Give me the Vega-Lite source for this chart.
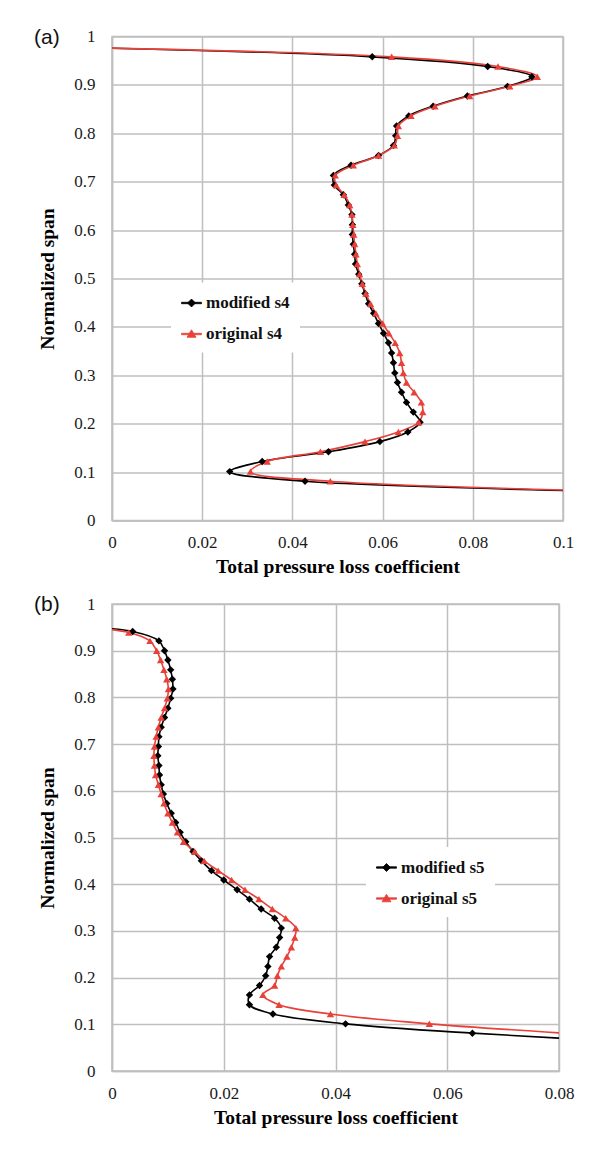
{
  "$schema": "https://vega.github.io/schema/vega-lite/v6.json",
  "padding": {"left": 33, "top": 25.5, "right": 0, "bottom": 0},
  "autosize": {"type": "pad"},
  "background": "white",
  "config": {
    "font": "Liberation Serif",
    "view": {"stroke": "#bfbfbf", "strokeWidth": 1.5},
    "axis": {
      "grid": true, "gridColor": "#bfbfbf", "gridWidth": 1.5,
      "domainColor": "#bfbfbf", "domainWidth": 1.5, "ticks": false,
      "labelFont": "Liberation Serif", "labelFontSize": 17, "labelColor": "#1a1a1a",
      "labelFlush": false, "labelOverlap": false,
      "titleFont": "Liberation Serif", "titleFontSize": 19.5, "titleFontWeight": "bold", "titleColor": "#000000"
    },
    "axisX": {"labelPadding": 14, "titlePadding": 7},
    "axisY": {"labelPadding": 17, "titlePadding": 16},
    "legend": {
      "orient": "none", "labelFont": "Liberation Serif", "labelFontSize": 17, "labelFontWeight": "bold",
      "labelColor": "#111111", "fillColor": "white", "padding": 10, "symbolSize": 400,
      "rowPadding": 12, "labelOffset": 4, "symbolStrokeWidth": 0.8
    },
    "title": {"font": "Liberation Sans", "fontSize": 21, "fontWeight": "normal", "anchor": "start", "frame": "group", "color": "#111111"},
    "concat": {"spacing": 15.5}
  },
  "resolve": {"scale": {"color": "independent"}, "legend": {"color": "independent"}},
  "vconcat": [
    {
      "width": 451, "height": 484,
      "title": {"text": "(a)", "dx": -78, "dy": 35, "baseline": "middle"},
      "data": {"values": [
        {"series": "modified s4", "loss": 0.13, "span": 0.056},
        {"series": "modified s4", "loss": 0.0428, "span": 0.081},
        {"series": "modified s4", "loss": 0.0261, "span": 0.101},
        {"series": "modified s4", "loss": 0.0333, "span": 0.122},
        {"series": "modified s4", "loss": 0.048, "span": 0.142},
        {"series": "modified s4", "loss": 0.0594, "span": 0.163},
        {"series": "modified s4", "loss": 0.0656, "span": 0.183},
        {"series": "modified s4", "loss": 0.0683, "span": 0.203},
        {"series": "modified s4", "loss": 0.0668, "span": 0.224},
        {"series": "modified s4", "loss": 0.0653, "span": 0.244},
        {"series": "modified s4", "loss": 0.0642, "span": 0.265},
        {"series": "modified s4", "loss": 0.0633, "span": 0.285},
        {"series": "modified s4", "loss": 0.0627, "span": 0.305},
        {"series": "modified s4", "loss": 0.0624, "span": 0.326},
        {"series": "modified s4", "loss": 0.062, "span": 0.346},
        {"series": "modified s4", "loss": 0.0613, "span": 0.367},
        {"series": "modified s4", "loss": 0.0602, "span": 0.387},
        {"series": "modified s4", "loss": 0.0591, "span": 0.407},
        {"series": "modified s4", "loss": 0.058, "span": 0.428},
        {"series": "modified s4", "loss": 0.0569, "span": 0.448},
        {"series": "modified s4", "loss": 0.0561, "span": 0.469},
        {"series": "modified s4", "loss": 0.0554, "span": 0.489},
        {"series": "modified s4", "loss": 0.0547, "span": 0.509},
        {"series": "modified s4", "loss": 0.054, "span": 0.53},
        {"series": "modified s4", "loss": 0.0538, "span": 0.55},
        {"series": "modified s4", "loss": 0.0535, "span": 0.571},
        {"series": "modified s4", "loss": 0.0533, "span": 0.591},
        {"series": "modified s4", "loss": 0.0533, "span": 0.611},
        {"series": "modified s4", "loss": 0.0532, "span": 0.632},
        {"series": "modified s4", "loss": 0.0524, "span": 0.652},
        {"series": "modified s4", "loss": 0.0513, "span": 0.673},
        {"series": "modified s4", "loss": 0.0493, "span": 0.693},
        {"series": "modified s4", "loss": 0.0491, "span": 0.713},
        {"series": "modified s4", "loss": 0.053, "span": 0.734},
        {"series": "modified s4", "loss": 0.0591, "span": 0.754},
        {"series": "modified s4", "loss": 0.0624, "span": 0.775},
        {"series": "modified s4", "loss": 0.0629, "span": 0.795},
        {"series": "modified s4", "loss": 0.0631, "span": 0.815},
        {"series": "modified s4", "loss": 0.0658, "span": 0.836},
        {"series": "modified s4", "loss": 0.0712, "span": 0.856},
        {"series": "modified s4", "loss": 0.0788, "span": 0.877},
        {"series": "modified s4", "loss": 0.0877, "span": 0.897},
        {"series": "modified s4", "loss": 0.0931, "span": 0.917},
        {"series": "modified s4", "loss": 0.0833, "span": 0.938},
        {"series": "modified s4", "loss": 0.0577, "span": 0.958},
        {"series": "modified s4", "loss": -0.01, "span": 0.978},
        {"series": "original s4", "loss": 0.13, "span": 0.0565},
        {"series": "original s4", "loss": 0.0484, "span": 0.081},
        {"series": "original s4", "loss": 0.0307, "span": 0.101},
        {"series": "original s4", "loss": 0.0344, "span": 0.122},
        {"series": "original s4", "loss": 0.0462, "span": 0.142},
        {"series": "original s4", "loss": 0.0561, "span": 0.163},
        {"series": "original s4", "loss": 0.0635, "span": 0.183},
        {"series": "original s4", "loss": 0.068, "span": 0.203},
        {"series": "original s4", "loss": 0.0689, "span": 0.224},
        {"series": "original s4", "loss": 0.0686, "span": 0.244},
        {"series": "original s4", "loss": 0.067, "span": 0.265},
        {"series": "original s4", "loss": 0.0653, "span": 0.285},
        {"series": "original s4", "loss": 0.0646, "span": 0.305},
        {"series": "original s4", "loss": 0.0642, "span": 0.326},
        {"series": "original s4", "loss": 0.0638, "span": 0.346},
        {"series": "original s4", "loss": 0.0628, "span": 0.367},
        {"series": "original s4", "loss": 0.0614, "span": 0.387},
        {"series": "original s4", "loss": 0.06, "span": 0.407},
        {"series": "original s4", "loss": 0.0585, "span": 0.428},
        {"series": "original s4", "loss": 0.0573, "span": 0.448},
        {"series": "original s4", "loss": 0.0563, "span": 0.469},
        {"series": "original s4", "loss": 0.0555, "span": 0.489},
        {"series": "original s4", "loss": 0.0549, "span": 0.509},
        {"series": "original s4", "loss": 0.0544, "span": 0.53},
        {"series": "original s4", "loss": 0.0541, "span": 0.55},
        {"series": "original s4", "loss": 0.0538, "span": 0.571},
        {"series": "original s4", "loss": 0.0536, "span": 0.591},
        {"series": "original s4", "loss": 0.0534, "span": 0.611},
        {"series": "original s4", "loss": 0.0532, "span": 0.632},
        {"series": "original s4", "loss": 0.0527, "span": 0.652},
        {"series": "original s4", "loss": 0.0515, "span": 0.673},
        {"series": "original s4", "loss": 0.0497, "span": 0.693},
        {"series": "original s4", "loss": 0.0495, "span": 0.713},
        {"series": "original s4", "loss": 0.0535, "span": 0.734},
        {"series": "original s4", "loss": 0.0591, "span": 0.754},
        {"series": "original s4", "loss": 0.0626, "span": 0.775},
        {"series": "original s4", "loss": 0.0633, "span": 0.795},
        {"series": "original s4", "loss": 0.0635, "span": 0.815},
        {"series": "original s4", "loss": 0.0663, "span": 0.836},
        {"series": "original s4", "loss": 0.0716, "span": 0.856},
        {"series": "original s4", "loss": 0.0793, "span": 0.877},
        {"series": "original s4", "loss": 0.0882, "span": 0.897},
        {"series": "original s4", "loss": 0.0943, "span": 0.917},
        {"series": "original s4", "loss": 0.0856, "span": 0.938},
        {"series": "original s4", "loss": 0.062, "span": 0.958},
        {"series": "original s4", "loss": -0.01, "span": 0.978}
      ]},
      "encoding": {
        "x": {"field": "loss", "type": "quantitative", "scale": {"domain": [0, 0.1], "nice": false, "zero": false},
              "axis": {"title": "Total pressure loss coefficient", "values": [0, 0.02, 0.04, 0.06, 0.08, 0.1], "format": "~g"}},
        "y": {"field": "span", "type": "quantitative", "scale": {"domain": [0, 1], "nice": false, "zero": false},
              "axis": {"title": "Normalized span", "values": [0, 0.1, 0.2, 0.3, 0.4, 0.5, 0.6, 0.7, 0.8, 0.9, 1], "format": "~g"}},
        "color": {"field": "series", "type": "nominal",
                  "scale": {"domain": ["modified s4", "original s4"], "range": ["#000000", "#e8413a"]},
                  "legend": {"title": null, "legendX": 59, "legendY": 246,
                    "encode": {"symbols": {"update": {
                      "shape": {"signal": "datum.value === 'modified s4' ? 'M-1,-0.07H1V0.07H-1Z M0,-0.4L0.4,0L0,0.4L-0.4,0Z' : 'M-1,-0.07H1V0.07H-1Z M0,-0.42L0.45,0.33L-0.45,0.33Z'"},
                      "fill": {"signal": "datum.value === 'modified s4' ? '#000000' : '#e8413a'"},
                      "opacity": {"value": 1}}}}}}
      },
      "layer": [
        {"mark": {"type": "line", "interpolate": "catmull-rom", "clip": true, "strokeWidth": 1.6},
         "encoding": {"order": {"field": "span", "type": "quantitative"}}},
        {"transform": [{"filter": "datum.series === 'modified s4'"}],
         "mark": {"type": "point", "shape": "diamond", "filled": true, "opacity": 1, "clip": true, "size": 55}},
        {"transform": [{"filter": "datum.series === 'original s4'"}],
         "mark": {"type": "point", "shape": "triangle-up", "filled": true, "opacity": 1, "clip": true, "size": 55}}
      ]
    },
    {
      "width": 447, "height": 467,
      "title": {"text": "(b)", "dx": -78, "dy": 35, "baseline": "middle"},
      "data": {"values": [
        {"series": "modified s5", "loss": 0.1, "span": 0.058},
        {"series": "modified s5", "loss": 0.0645, "span": 0.081},
        {"series": "modified s5", "loss": 0.0418, "span": 0.101},
        {"series": "modified s5", "loss": 0.0288, "span": 0.122},
        {"series": "modified s5", "loss": 0.0246, "span": 0.142},
        {"series": "modified s5", "loss": 0.0246, "span": 0.163},
        {"series": "modified s5", "loss": 0.0264, "span": 0.183},
        {"series": "modified s5", "loss": 0.0275, "span": 0.204},
        {"series": "modified s5", "loss": 0.0279, "span": 0.224},
        {"series": "modified s5", "loss": 0.0282, "span": 0.245},
        {"series": "modified s5", "loss": 0.0294, "span": 0.265},
        {"series": "modified s5", "loss": 0.03, "span": 0.286},
        {"series": "modified s5", "loss": 0.0303, "span": 0.306},
        {"series": "modified s5", "loss": 0.0291, "span": 0.327},
        {"series": "modified s5", "loss": 0.0267, "span": 0.347},
        {"series": "modified s5", "loss": 0.0246, "span": 0.368},
        {"series": "modified s5", "loss": 0.0224, "span": 0.388},
        {"series": "modified s5", "loss": 0.02, "span": 0.409},
        {"series": "modified s5", "loss": 0.0178, "span": 0.429},
        {"series": "modified s5", "loss": 0.016, "span": 0.45},
        {"series": "modified s5", "loss": 0.0145, "span": 0.47},
        {"series": "modified s5", "loss": 0.0132, "span": 0.491},
        {"series": "modified s5", "loss": 0.0122, "span": 0.511},
        {"series": "modified s5", "loss": 0.0114, "span": 0.532},
        {"series": "modified s5", "loss": 0.0106, "span": 0.552},
        {"series": "modified s5", "loss": 0.0098, "span": 0.573},
        {"series": "modified s5", "loss": 0.0092, "span": 0.593},
        {"series": "modified s5", "loss": 0.0088, "span": 0.613},
        {"series": "modified s5", "loss": 0.0085, "span": 0.634},
        {"series": "modified s5", "loss": 0.0084, "span": 0.654},
        {"series": "modified s5", "loss": 0.0082, "span": 0.675},
        {"series": "modified s5", "loss": 0.0083, "span": 0.695},
        {"series": "modified s5", "loss": 0.0084, "span": 0.716},
        {"series": "modified s5", "loss": 0.0088, "span": 0.736},
        {"series": "modified s5", "loss": 0.0094, "span": 0.757},
        {"series": "modified s5", "loss": 0.01, "span": 0.777},
        {"series": "modified s5", "loss": 0.0105, "span": 0.798},
        {"series": "modified s5", "loss": 0.0109, "span": 0.818},
        {"series": "modified s5", "loss": 0.0108, "span": 0.839},
        {"series": "modified s5", "loss": 0.0105, "span": 0.859},
        {"series": "modified s5", "loss": 0.01, "span": 0.88},
        {"series": "modified s5", "loss": 0.0094, "span": 0.9},
        {"series": "modified s5", "loss": 0.0084, "span": 0.921},
        {"series": "modified s5", "loss": 0.0037, "span": 0.941},
        {"series": "modified s5", "loss": -0.004, "span": 0.95},
        {"series": "original s5", "loss": 0.1, "span": 0.067},
        {"series": "original s5", "loss": 0.0568, "span": 0.101},
        {"series": "original s5", "loss": 0.0391, "span": 0.122},
        {"series": "original s5", "loss": 0.0299, "span": 0.142},
        {"series": "original s5", "loss": 0.027, "span": 0.163},
        {"series": "original s5", "loss": 0.0291, "span": 0.183},
        {"series": "original s5", "loss": 0.0296, "span": 0.204},
        {"series": "original s5", "loss": 0.0303, "span": 0.224},
        {"series": "original s5", "loss": 0.0313, "span": 0.245},
        {"series": "original s5", "loss": 0.0321, "span": 0.265},
        {"series": "original s5", "loss": 0.0327, "span": 0.286},
        {"series": "original s5", "loss": 0.0329, "span": 0.306},
        {"series": "original s5", "loss": 0.0311, "span": 0.327},
        {"series": "original s5", "loss": 0.0287, "span": 0.347},
        {"series": "original s5", "loss": 0.0263, "span": 0.368},
        {"series": "original s5", "loss": 0.0238, "span": 0.388},
        {"series": "original s5", "loss": 0.0214, "span": 0.409},
        {"series": "original s5", "loss": 0.019, "span": 0.429},
        {"series": "original s5", "loss": 0.0165, "span": 0.45},
        {"series": "original s5", "loss": 0.0148, "span": 0.47},
        {"series": "original s5", "loss": 0.0128, "span": 0.491},
        {"series": "original s5", "loss": 0.0117, "span": 0.511},
        {"series": "original s5", "loss": 0.0108, "span": 0.532},
        {"series": "original s5", "loss": 0.01, "span": 0.552},
        {"series": "original s5", "loss": 0.0093, "span": 0.573},
        {"series": "original s5", "loss": 0.0088, "span": 0.593},
        {"series": "original s5", "loss": 0.0083, "span": 0.613},
        {"series": "original s5", "loss": 0.0078, "span": 0.634},
        {"series": "original s5", "loss": 0.0076, "span": 0.654},
        {"series": "original s5", "loss": 0.0075, "span": 0.675},
        {"series": "original s5", "loss": 0.0076, "span": 0.695},
        {"series": "original s5", "loss": 0.0079, "span": 0.716},
        {"series": "original s5", "loss": 0.0083, "span": 0.736},
        {"series": "original s5", "loss": 0.0088, "span": 0.757},
        {"series": "original s5", "loss": 0.0094, "span": 0.777},
        {"series": "original s5", "loss": 0.0099, "span": 0.798},
        {"series": "original s5", "loss": 0.0101, "span": 0.818},
        {"series": "original s5", "loss": 0.0098, "span": 0.839},
        {"series": "original s5", "loss": 0.0093, "span": 0.859},
        {"series": "original s5", "loss": 0.0087, "span": 0.88},
        {"series": "original s5", "loss": 0.008, "span": 0.9},
        {"series": "original s5", "loss": 0.0068, "span": 0.921},
        {"series": "original s5", "loss": 0.003, "span": 0.939},
        {"series": "original s5", "loss": -0.004, "span": 0.95}
      ]},
      "encoding": {
        "x": {"field": "loss", "type": "quantitative", "scale": {"domain": [0, 0.08], "nice": false, "zero": false},
              "axis": {"title": "Total pressure loss coefficient", "values": [0, 0.02, 0.04, 0.06, 0.08], "format": "~g"}},
        "y": {"field": "span", "type": "quantitative", "scale": {"domain": [0, 1], "nice": false, "zero": false},
              "axis": {"title": "Normalized span", "values": [0, 0.1, 0.2, 0.3, 0.4, 0.5, 0.6, 0.7, 0.8, 0.9, 1], "format": "~g"}},
        "color": {"field": "series", "type": "nominal",
                  "scale": {"domain": ["modified s5", "original s5"], "range": ["#000000", "#e8413a"]},
                  "legend": {"title": null, "legendX": 254, "legendY": 243,
                    "encode": {"symbols": {"update": {
                      "shape": {"signal": "datum.value === 'modified s5' ? 'M-1,-0.07H1V0.07H-1Z M0,-0.4L0.4,0L0,0.4L-0.4,0Z' : 'M-1,-0.07H1V0.07H-1Z M0,-0.42L0.45,0.33L-0.45,0.33Z'"},
                      "fill": {"signal": "datum.value === 'modified s5' ? '#000000' : '#e8413a'"},
                      "opacity": {"value": 1}}}}}}
      },
      "layer": [
        {"mark": {"type": "line", "interpolate": "catmull-rom", "clip": true, "strokeWidth": 1.6},
         "encoding": {"order": {"field": "span", "type": "quantitative"}}},
        {"transform": [{"filter": "datum.series === 'modified s5'"}],
         "mark": {"type": "point", "shape": "diamond", "filled": true, "opacity": 1, "clip": true, "size": 55}},
        {"transform": [{"filter": "datum.series === 'original s5'"}],
         "mark": {"type": "point", "shape": "triangle-up", "filled": true, "opacity": 1, "clip": true, "size": 55}}
      ]
    }
  ]
}
